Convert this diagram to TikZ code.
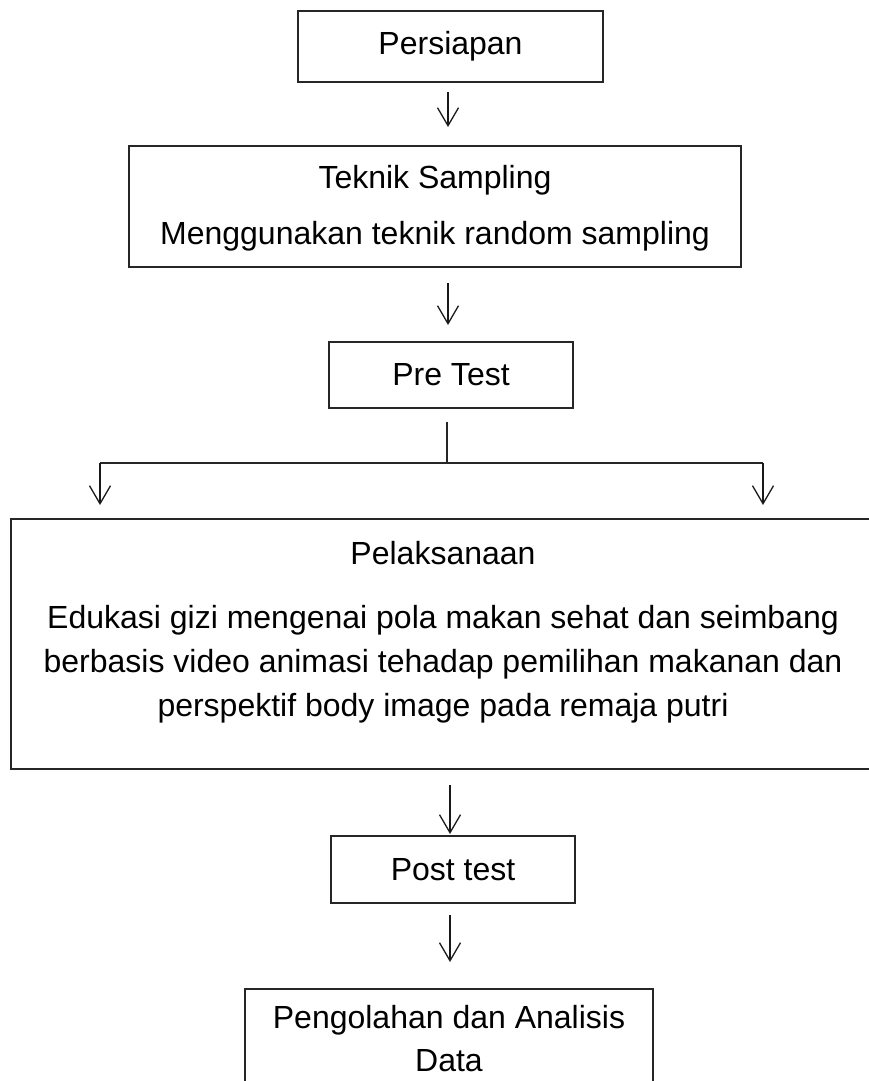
\documentclass[tikz,border=0pt]{standalone}
\usepackage{fontspec}
\setmainfont{Liberation Sans}
\usetikzlibrary{arrows.meta}
\begin{document}
\begin{tikzpicture}[x=1pt,y=-1pt,
  box/.style={draw=black!85, line width=1.5pt, inner sep=0pt},
  txt/.style={font=\fontsize{32}{38}\selectfont, inner sep=0pt, align=center},
  arr/.style={line width=1.3pt, draw=black!90, -{Straight Barb[length=18pt,width=21pt,line width=1.3pt]}},
  ln/.style={line width=1.5pt, draw=black!85}]
\useasboundingbox (0,0) rectangle (869,1081);
\clip (0,0) rectangle (869,1081);

\node[box, txt, minimum width=305pt, minimum height=71pt] (p1) at (450.5,46.5) {Persiapan};

\node[box, minimum width=612pt, minimum height=121pt] (p2) at (435,206.5) {};
\node[txt, font=\fontsize{32}{56}\selectfont] (p2t) at (435,208) {Teknik Sampling\\Menggunakan teknik random sampling};

\node[box, txt, minimum width=244pt, minimum height=66pt] (p3) at (451,375) {Pre Test};

\node[box, minimum width=900pt, minimum height=250pt] (p4) at (461,644) {};
\node[txt] (p4a) at (443,553) {Pelaksanaan};
\node[txt, font=\fontsize{32}{44}\selectfont] (p4b) at (443,664) {Edukasi gizi mengenai pola makan sehat dan seimbang\\berbasis video animasi tehadap pemilihan makanan dan\\perspektif body image pada remaja putri};

\node[box, txt, minimum width=244pt, minimum height=67pt] (p5) at (453,869.5) {Post test};

\node[box, minimum width=408pt, minimum height=200pt] (p6) at (449,1089) {};
\node[txt, font=\fontsize{32}{43}\selectfont] (p6t) at (449,1039) {Pengolahan dan Analisis\\Data};

% connectors
\coordinate (a1s) at (448,92);  \coordinate (a1e) at (448,127);
\coordinate (a2s) at (448,283); \coordinate (a2e) at (448,325);
\coordinate (bs) at (447,422);  \coordinate (bm) at (447,463);
\coordinate (bl) at (100,463);  \coordinate (br) at (763,463);
\coordinate (ble) at (100,505); \coordinate (bre) at (763,505);
\coordinate (a4s) at (450,785); \coordinate (a4e) at (450,834);
\coordinate (a5s) at (450,915); \coordinate (a5e) at (450,962);

\draw[arr] (a1s) -- (a1e);
\draw[arr] (a2s) -- (a2e);
\draw[ln] (bs) -- (bm);
\draw[ln] (bl) -- (br);
\draw[arr] (bl) -- (ble);
\draw[arr] (br) -- (bre);
\draw[arr] (a4s) -- (a4e);
\draw[arr] (a5s) -- (a5e);
\end{tikzpicture}
\end{document}
